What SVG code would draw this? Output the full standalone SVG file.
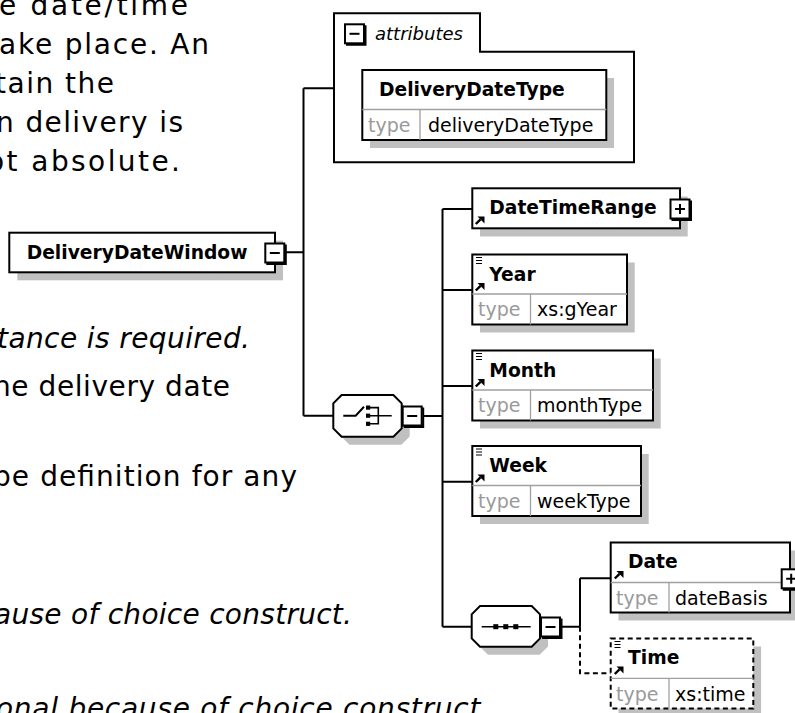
<svg xmlns="http://www.w3.org/2000/svg" width="795" height="713" viewBox="0 0 795 713">
<style>
.doc{font-family:"DejaVu Sans",Verdana,sans-serif;font-size:28px;fill:#000}
.it{font-style:italic}
.nm{font-family:"DejaVu Sans",sans-serif;font-weight:bold;font-size:18.7px;fill:#000}
.tl{font-family:"DejaVu Sans",sans-serif;font-size:19px;fill:#9a9a9a}
.tv{font-family:"DejaVu Sans",sans-serif;font-size:19px;fill:#000}
.at{font-family:"DejaVu Sans",sans-serif;font-style:italic;font-size:18px;fill:#000}
.bx{fill:#fff;stroke:#000;stroke-width:2}
.sh{fill:#c0c0c0}
.dv{stroke:#a0a0a0;stroke-width:1.3;fill:none}
.cn{stroke:#000;stroke-width:2;fill:none}
.ds{stroke-dasharray:5 3.5}
.ic{stroke:#000;stroke-width:1.6;fill:none}
</style>
<defs>
<g id="ref"><path d="M0.8,9 L5.5,4.3" stroke="#000" stroke-width="2.4"/><path d="M2.5,1.5H9.5V8.5Z" fill="#000"/></g>
<g id="eq"><path d="M0,0.5H6M0,3.5H6M0,6.5H6" stroke="#000" stroke-width="1.2"/></g>
<g id="minus"><rect x="0" y="0" width="19" height="19" fill="#fff" stroke="#000" stroke-width="2"/><path d="M20.5,1V20.5H1" stroke="#000" stroke-width="2" fill="none"/><path d="M4.5,9.5H14.5" stroke="#000" stroke-width="2"/></g>
<g id="plus"><rect x="0" y="0" width="19" height="19" fill="#fff" stroke="#000" stroke-width="2"/><path d="M20.5,1V20.5H1" stroke="#000" stroke-width="2" fill="none"/><path d="M4.5,9.5H14.5M9.5,4.5V14.5" stroke="#000" stroke-width="2"/></g>
</defs>

<g id="doc-text">
<text class="doc" x="-1" y="15" textLength="189" lengthAdjust="spacing">e date/time</text>
<text class="doc" x="-1" y="54" textLength="210" lengthAdjust="spacing">ake place. An</text>
<text class="doc" x="-5" y="93" textLength="119" lengthAdjust="spacing">tain the</text>
<text class="doc" x="-4" y="132" textLength="187" lengthAdjust="spacing">n delivery is</text>
<text class="doc" x="-13" y="171" textLength="193" lengthAdjust="spacing">ot absolute.</text>
<text class="doc it" x="-3" y="348" textLength="253" lengthAdjust="spacing">tance is required.</text>
<text class="doc" x="-7" y="396" textLength="237" lengthAdjust="spacing">ne delivery date</text>
<text class="doc" x="-7" y="486" textLength="304" lengthAdjust="spacing">pe definition for any</text>
<text class="doc it" x="-6" y="624" textLength="358" lengthAdjust="spacing">ause of choice construct.</text>
<text class="doc it" x="-4" y="718" textLength="494" lengthAdjust="spacing">onal because of choice construct.</text>
</g>

<g id="connectors">
<path class="cn" d="M286,252.3H303.5M303.5,88.3V415.7M303.5,88.3H334M303.5,415.7H333.3M424,416H442.5M442.5,209V626.7M442.5,209H472.3M442.5,290H472.3M442.5,386H472.3M442.5,481.7H472.3M442.5,626.7H471.7M562,626.7H580M580,578.3V626.7M580,578.3H610.7"/>
<path class="cn ds" d="M580,626.7V673.3H610.7"/>
</g>

<g id="attributes">
<path class="cn" d="M334,13.3H480V51.7H634V162.3H334Z" fill="#fff"/>
<use href="#minus" x="345" y="24.3"/>
<text class="at" x="375" y="40">attributes</text>
</g>

<g id="DeliveryDateType">
<rect class="sh" x="370" y="78" width="244" height="70"/>
<rect class="bx" x="362.3" y="70" width="244" height="70"/>
<path class="dv" d="M362.3,109.5H606.3M420,109.5V140"/>
<text class="nm" x="379" y="95.5">DeliveryDateType</text>
<text class="tl" x="368" y="131.5">type</text>
<text class="tv" x="428" y="131.5">deliveryDateType</text>
</g>

<g id="DeliveryDateWindow">
<rect class="sh" x="17.3" y="240.7" width="265.7" height="39.6"/>
<rect class="bx" x="9.3" y="232.7" width="265.7" height="39.6"/>
<text class="nm" x="26.7" y="259.3">DeliveryDateWindow</text>
<use href="#minus" x="265.3" y="243.5"/>
</g>

<g id="choice">
<polygon class="sh" points="349.6,403 401.4,403 409.7,411.3 409.7,436.4 401.4,444.7 349.6,444.7 341.3,436.4 341.3,411.3"/>
<polygon class="bx" points="341.6,395 393.4,395 401.7,403.3 401.7,428.4 393.4,436.7 341.6,436.7 333.3,428.4 333.3,403.3"/>
<path class="cn" d="M343.3,415.7H355.7L364,406.7"/>
<rect x="366" y="405.5" width="4.2" height="4.2" fill="#000"/>
<rect x="366" y="413.6" width="4.2" height="4.2" fill="#000"/>
<rect x="366" y="421.7" width="4.2" height="4.2" fill="#000"/>
<path class="ic" d="M370,407.6H378.3V423.8H370M370,415.7H391.7"/>
<use href="#minus" x="402.7" y="406.5"/>
</g>

<g id="DateTimeRange">
<rect class="sh" x="480" y="196.5" width="207.7" height="40"/>
<rect class="bx" x="472.3" y="188.3" width="207.7" height="40"/>
<use href="#ref" x="475" y="215"/>
<text class="nm" x="489.3" y="214.3">DateTimeRange</text>
<use href="#plus" x="670.5" y="199.5"/>
</g>

<g id="Year">
<rect class="sh" x="480" y="262.5" width="154.7" height="70"/>
<rect class="bx" x="472.3" y="254.5" width="154.7" height="70"/>
<path class="dv" d="M472.3,294H627M530.5,294V324.5"/>
<use href="#eq" x="476" y="257"/>
<use href="#ref" x="475" y="281.5"/>
<text class="nm" x="489.3" y="280.5">Year</text>
<text class="tl" x="478" y="316">type</text>
<text class="tv" x="537" y="316">xs:gYear</text>
</g>

<g id="Month">
<rect class="sh" x="480" y="358.5" width="180.7" height="70"/>
<rect class="bx" x="472.3" y="350.5" width="180.7" height="70"/>
<path class="dv" d="M472.3,390H653M530.5,390V420.5"/>
<use href="#eq" x="476" y="353"/>
<use href="#ref" x="475" y="377.5"/>
<text class="nm" x="489.3" y="376.5">Month</text>
<text class="tl" x="478" y="412">type</text>
<text class="tv" x="537" y="412">monthType</text>
</g>

<g id="Week">
<rect class="sh" x="480" y="454" width="168.7" height="70"/>
<rect class="bx" x="472.3" y="446" width="168.7" height="70"/>
<path class="dv" d="M472.3,485.5H641M530.5,485.5V516"/>
<use href="#eq" x="476" y="448.5"/>
<use href="#ref" x="475" y="473"/>
<text class="nm" x="489.3" y="472">Week</text>
<text class="tl" x="478" y="507.5">type</text>
<text class="tv" x="537" y="507.5">weekType</text>
</g>

<g id="sequence">
<polygon class="sh" points="488,614 539.7,614 548,622.3 548,646.4 539.7,654.7 488,654.7 479.7,646.4 479.7,622.3"/>
<polygon class="bx" points="480,606 531.7,606 540,614.3 540,638.4 531.7,646.7 480,646.7 471.7,638.4 471.7,614.3"/>
<path class="ic" d="M481.7,626.7H530.7"/>
<rect x="493.3" y="624.2" width="5" height="5" fill="#000"/>
<rect x="503.3" y="624.2" width="5" height="5" fill="#000"/>
<rect x="513.3" y="624.2" width="5" height="5" fill="#000"/>
<use href="#minus" x="541" y="617.5"/>
</g>

<g id="Date">
<rect class="sh" x="618.5" y="550.5" width="179.3" height="70"/>
<rect class="bx" x="610.7" y="542.5" width="179.3" height="70"/>
<path class="dv" d="M610.7,582.5H790M669,582.5V612.5"/>
<use href="#ref" x="614" y="569.5"/>
<text class="nm" x="628" y="568.3">Date</text>
<text class="tl" x="616" y="604.5">type</text>
<text class="tv" x="675" y="604.5">dateBasis</text>
<use href="#plus" x="781.7" y="569.3"/>
</g>

<g id="Time">
<rect class="sh" x="618.5" y="646.5" width="142.6" height="70"/>
<rect class="bx ds" x="610.7" y="638.5" width="142.6" height="70"/>
<path class="dv" d="M610.7,678.3H753.3M669,678.3V708.5"/>
<use href="#eq" x="614.5" y="641"/>
<use href="#ref" x="614" y="665"/>
<text class="nm" x="628" y="664.3">Time</text>
<text class="tl" x="616" y="700.5">type</text>
<text class="tv" x="675" y="700.5">xs:time</text>
</g>
</svg>
